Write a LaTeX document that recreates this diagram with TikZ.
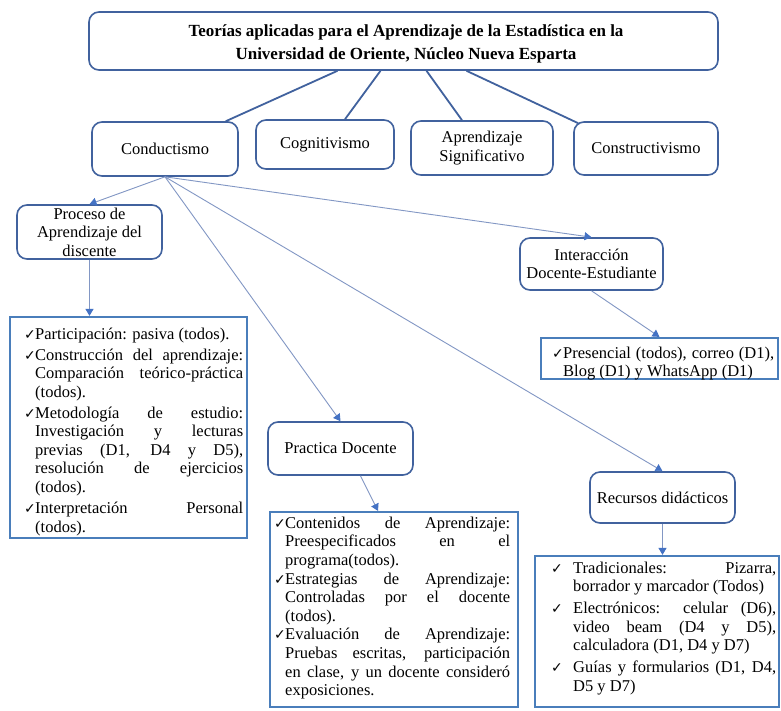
\documentclass[tikz,border=0pt]{standalone}
\usepackage{fontspec}
\setmainfont{Liberation Serif}
\newfontfamily\dejavu{DejaVu Sans}
\usetikzlibrary{arrows.meta,calc}
\definecolor{boxblue}{HTML}{41629E}
\definecolor{listblue}{HTML}{4A7EBB}
\definecolor{linegray}{HTML}{8297C4}
\definecolor{tipblue}{HTML}{4472C4}
\newcommand\ck{{\dejavu\fontsize{14}{14}\selectfont ✓}}
\newcommand\chitem[2]{\par\noindent\hangindent=#1\hangafter=1\makebox[#1][l]{\ck}#2\par}
\newcommand\fs{\fontsize{16.5}{18.6}\selectfont}
\newcommand\ttl{\fontsize{17}{23}\selectfont\bfseries}
\newcommand\nohy{\hyphenpenalty=10000\exhyphenpenalty=10000\relax}
\tikzset{
  rbox/.style={draw=boxblue, line width=1.6pt, rounded corners=10pt, align=center,
               inner sep=0pt, fill=white, font=\fs},
  lbox/.style={draw=listblue, line width=2.2pt, fill=white, inner sep=0pt},
  ltext/.style={anchor=north west, inner sep=0pt, align=justify, font=\fs},
  conn/.style={draw=linegray, line width=0.9pt,
               -{Triangle[width=8pt,length=7pt,color=tipblue,fill=tipblue]}},
  tconn/.style={draw=boxblue, line width=1.8pt},
}
\begin{document}
\begin{tikzpicture}[x=1pt,y=-1pt]
\useasboundingbox (0,0) rectangle (781,710);
\clip (0,0) rectangle (781,710);
\fill[white] (0,0) rectangle (781,710);

% title and theory boxes
\node[rbox, minimum width=629pt, minimum height=58pt] (title) at (403.5,41) {};
\node[font=\ttl, align=center, inner sep=0pt] (titletext) at (406,44)
  {Teorías aplicadas para el Aprendizaje de la Estadística en la\\Universidad de Oriente, Núcleo Nueva Esparta};
\node[rbox, minimum width=146pt, minimum height=54pt] (cond) at (165,149) {Conductismo};
\node[rbox, minimum width=138pt, minimum height=49pt] (cog) at (325,144.5) {Cognitivismo};
\node[rbox, minimum width=142pt, minimum height=54pt] (apr) at (482,148) {Aprendizaje\\Significativo};
\node[rbox, minimum width=144pt, minimum height=53pt] (cons) at (646,148.5) {Constructivismo};

% second level
\node[rbox, minimum width=145pt, minimum height=54pt] (proc) at (89.5,232) {Proceso de\\Aprendizaje del\\discente};
\node[rbox, minimum width=143pt, minimum height=52pt] (inter) at (591.5,264) {Interacción\\Docente-Estudiante};
\node[rbox, minimum width=145pt, minimum height=53pt] (prac) at (340.5,448.5) {Practica Docente};
\node[rbox, minimum width=145pt, minimum height=51pt] (rec) at (662.5,497.5) {Recursos didácticos};

% list boxes
\node[lbox, minimum width=237pt, minimum height=221pt] (l1) at (128.5,427.5) {};
\node[lbox, minimum width=237pt, minimum height=41pt] (l2) at (659.5,358.5) {};
\node[lbox, minimum width=248pt, minimum height=195pt] (l3) at (394,609.5) {};
\node[lbox, minimum width=244pt, minimum height=151pt] (l4) at (657,631.5) {};

\node[ltext, text width=219pt] (t1) at (24,318) {\setlength{\parskip}{2.3pt}\nohy
\chitem{11pt}{\rule{0pt}{12pt}Participación: pasiva (todos).}
\chitem{11pt}{Construcción del aprendizaje:\linebreak Comparación teórico-práctica\linebreak (todos).}
\chitem{11pt}{Metodología de estudio:\linebreak Investigación y lecturas\linebreak previas (D1, D4 y D5),\linebreak resolución de ejercicios\linebreak (todos).}
\chitem{11pt}{Interpretación Personal\linebreak (todos).}};

\node[ltext, text width=222pt] (t2) at (552,339.5) {\nohy
\chitem{11pt}{\rule{0pt}{12pt}Presencial (todos), correo (D1),\linebreak Blog (D1) y WhatsApp (D1)}};

\node[ltext, text width=236pt] (t3) at (274,509.5) {\setlength{\parskip}{0pt}\nohy
\chitem{11pt}{\rule{0pt}{12pt}Contenidos de Aprendizaje:\linebreak Preespecificados en el\linebreak programa(todos).}
\chitem{11pt}{Estrategias de Aprendizaje:\linebreak Controladas por el docente\linebreak (todos).}
\chitem{11pt}{Evaluación de Aprendizaje:\linebreak Pruebas escritas, participación\linebreak en clase, y un docente consideró\linebreak exposiciones.}};

\node[ltext, text width=225pt] (t4) at (551,551) {\setlength{\parskip}{3.2pt}\nohy
\chitem{22pt}{\rule{0pt}{12pt}Tradicionales: Pizarra,\linebreak borrador y marcador (Todos)}
\chitem{22pt}{Electrónicos: celular (D6),\linebreak video beam (D4 y D5),\linebreak calculadora (D1, D4 y D7)}
\chitem{22pt}{Guías y formularios (D1, D4,\linebreak D5 y D7)}};

% title connectors
\draw[tconn] ([xshift=-66pt]title.south) -- ([xshift=-13pt]cond.north east);
\draw[tconn] ([xshift=-23pt]title.south) -- ([xshift=20pt]cog.north);
\draw[tconn] ([xshift=23pt]title.south) -- ([xshift=-20pt]apr.north);
\draw[tconn] ([xshift=63pt]title.south) -- ([xshift=5pt,yshift=-2pt]cons.north west);

% Conductismo connectors
\draw[conn] (cond.south) -- (proc.north);
\draw[conn] (cond.south) -- (prac.north);
\draw[conn] (cond.south) -- (rec.north);
\draw[conn] (cond.south) -- (inter.north);

% to lists
\draw[conn] (proc.south) -- (proc.south |- l1.north);
\draw[conn] (inter.south) -- (l2.north);
\draw[conn] ([xshift=20pt]prac.south) -- ([xshift=-16pt]l3.north);
\draw[conn] (rec.south) -- (rec.south |- l4.north);
\end{tikzpicture}
\end{document}
